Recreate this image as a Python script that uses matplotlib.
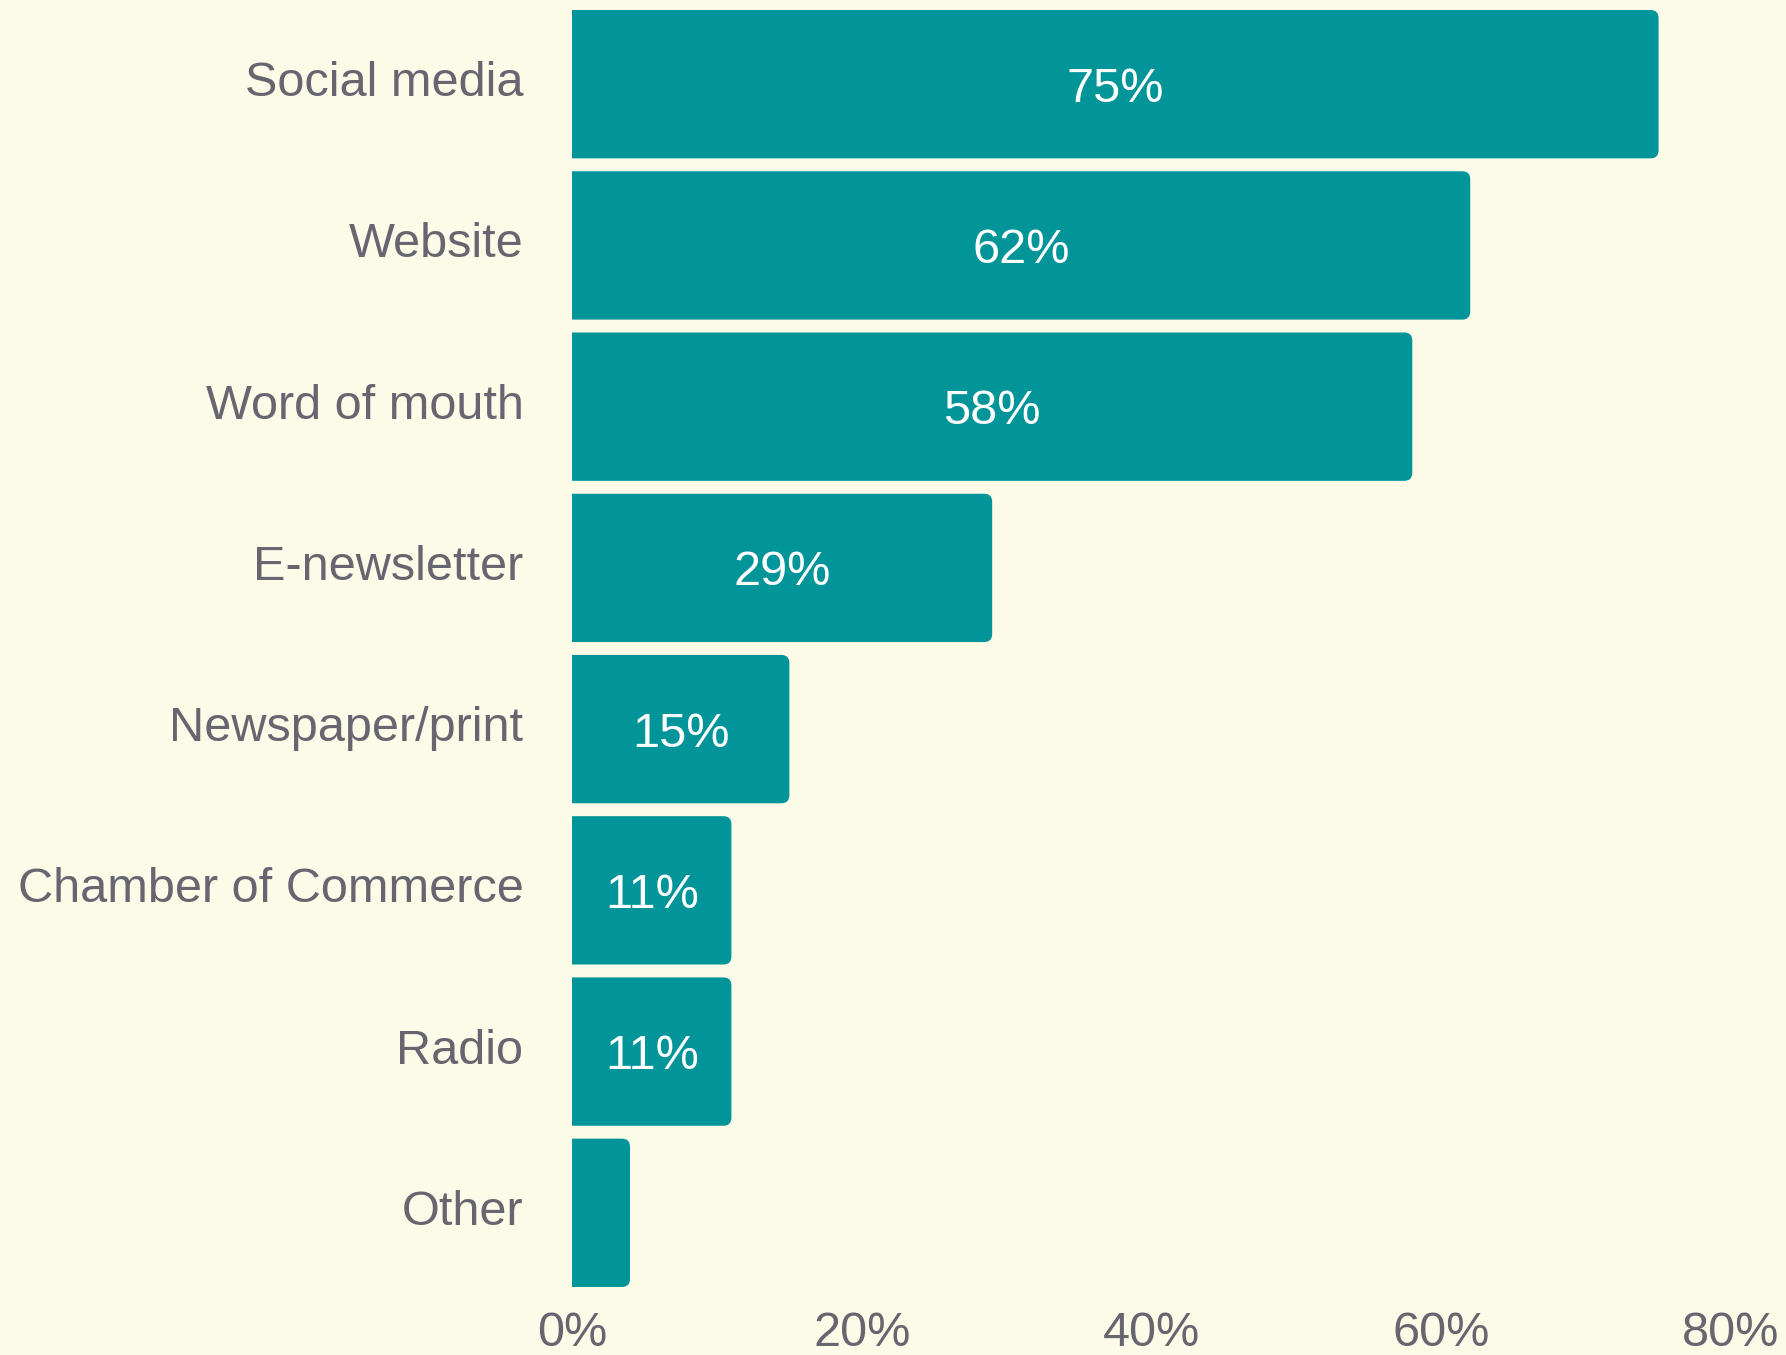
import matplotlib
matplotlib.use("Agg")
import matplotlib.pyplot as plt
from matplotlib.patches import FancyBboxPatch
from matplotlib.transforms import ScaledTranslation

# Survey results: how people heard about it
channels = ["Social media", "Website", "Word of mouth", "E-newsletter",
            "Newspaper/print", "Chamber of Commerce", "Radio", "Other"]
shares = [75, 62, 58, 29, 15, 11, 11, 4]
value_labels = ["75%", "62%", "58%", "29%", "15%", "11%", "11%", ""]
tick_values = [0, 20, 40, 60, 80]
tick_labels = ["0%", "20%", "40%", "60%", "80%"]

bg = "#FCFBE8"
teal = "#01959A"
grey = "#666570"

plt.rcParams['font.family'] = ['Liberation Sans', 'DejaVu Sans']

fig = plt.figure(figsize=(17.86, 13.55), dpi=100, facecolor=bg)
ax = fig.add_axes([0.3203, 0.0502, 0.6489, 0.9424])
ax.set_facecolor(bg)

ypos = list(range(len(channels)))
bar_h = 0.92
bars = ax.barh(ypos, shares, height=bar_h, color=teal)
ax.set_xlim(0, 80)
ax.set_ylim(len(channels) - 1 + bar_h / 2, -bar_h / 2)

# swap the plain bars for ones with rounded right corners
fig.canvas.draw()
x0, y0 = ax.transData.transform((0, 0))
x1, y1 = ax.transData.transform((1, 1))
aspect = abs((x1 - x0) / (y1 - y0))
radius_px = 8
r = radius_px / abs(x1 - x0)
for b in bars:
    b.set_visible(False)
    rect = FancyBboxPatch((b.get_x() - 2 * r, b.get_y()), b.get_width() + 2 * r, b.get_height(),
                          boxstyle=f"round,pad=0,rounding_size={r}",
                          mutation_aspect=aspect, facecolor=teal, edgecolor="none")
    ax.add_patch(rect)

for y, v, lab in zip(ypos, shares, value_labels):
    if lab:
        ax.text(v / 2, y, lab, ha="center", va="center_baseline", color="white", fontsize=35)

ax.set_yticks(ypos)
ax.set_yticklabels(channels, fontsize=35, color=grey)
ax.set_xticks(tick_values)
ax.set_xticklabels(tick_labels, fontsize=35, color=grey)
ax.tick_params(axis="y", length=0, pad=35)
ax.tick_params(axis="x", length=0, pad=17)
for s in ax.spines.values():
    s.set_visible(False)

# category names sit a little above the bar centres
lift = ScaledTranslation(0, 4 / 72, fig.dpi_scale_trans)
for lbl in ax.get_yticklabels():
    lbl.set_transform(lbl.get_transform() + lift)

fig.savefig("out.png", dpi=100, facecolor=bg)
